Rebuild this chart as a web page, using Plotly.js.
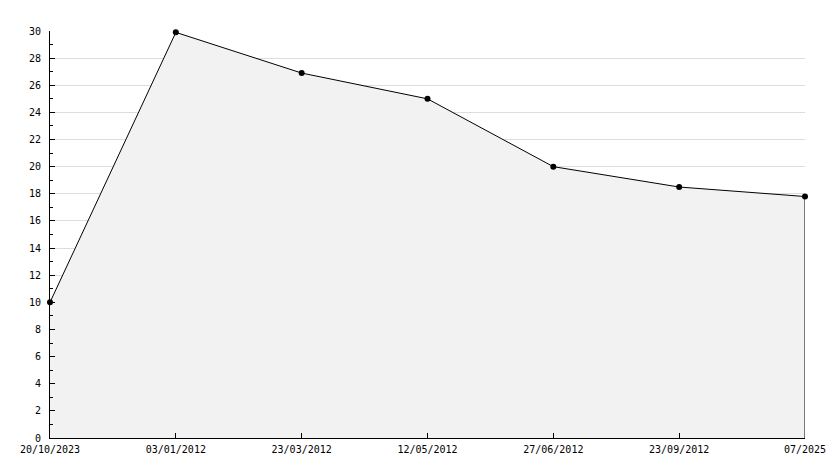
<!DOCTYPE html>
<html>
<head>
<meta charset="utf-8">
<script src="https://cdn.plot.ly/plotly-3.0.1.min.js"></script>
<style>html,body{margin:0;padding:0;background:#fff;}#chart{width:834px;height:468px;}</style>
</head>
<body>
<div id="chart"></div>
<script>
const categories = ["20/10/2023", "03/01/2012", "23/03/2012", "12/05/2012", "27/06/2012", "23/09/2012", "07/2025"];
const values = [10, 29.9, 26.9, 25, 20, 18.5, 17.8];
const yTicks = [0,2,4,6,8,10,12,14,16,18,20,22,24,26,28,30];

const font = {family: "DejaVu Sans Mono, monospace", size: 10, color: "#000"};

const trace = {
  x: categories,
  y: values,
  type: "scatter",
  mode: "lines+markers",
  fill: "tozeroy",
  fillcolor: "#f2f2f2",
  line: {color: "#000", width: 1},
  marker: {color: "#000", size: 6, symbol: "circle"},
  cliponaxis: false,
  hoverinfo: "x+y"
};

const lastIdx = categories.length - 1;

const layout = {
  width: 834, height: 468,
  margin: {l: 50, r: 29, t: 31, b: 30},
  paper_bgcolor: "#fff",
  plot_bgcolor: "#fff",
  showlegend: false,
  font: font,
  xaxis: {
    type: "category",
    range: [0, lastIdx],
    showgrid: false,
    zeroline: false,
    showline: true,
    linecolor: "#000",
    linewidth: 1,
    ticks: "inside",
    ticklen: 5,
    tickcolor: "#000",
    tickfont: font,
    ticklabelstandoff: 2
  },
  yaxis: {
    range: [0, 30],
    tickvals: yTicks,
    showgrid: true,
    gridcolor: "#dddddd",
    gridwidth: 1,
    zeroline: false,
    showline: true,
    linecolor: "#000",
    linewidth: 1,
    ticks: "inside",
    ticklen: 5,
    tickcolor: "#000",
    tickfont: font,
    ticklabelstandoff: 6,
    minor: {dtick: 1, ticks: "inside", ticklen: 3, tickcolor: "#000", showgrid: false}
  },
  shapes: [{
    type: "line", xref: "x", yref: "y",
    x0: categories[lastIdx], x1: categories[lastIdx],
    y0: 0, y1: values[lastIdx],
    line: {color: "#000", width: 1}
  }]
};

Plotly.newPlot("chart", [trace], layout, {displayModeBar: false, staticPlot: true});
</script>
</body>
</html>
